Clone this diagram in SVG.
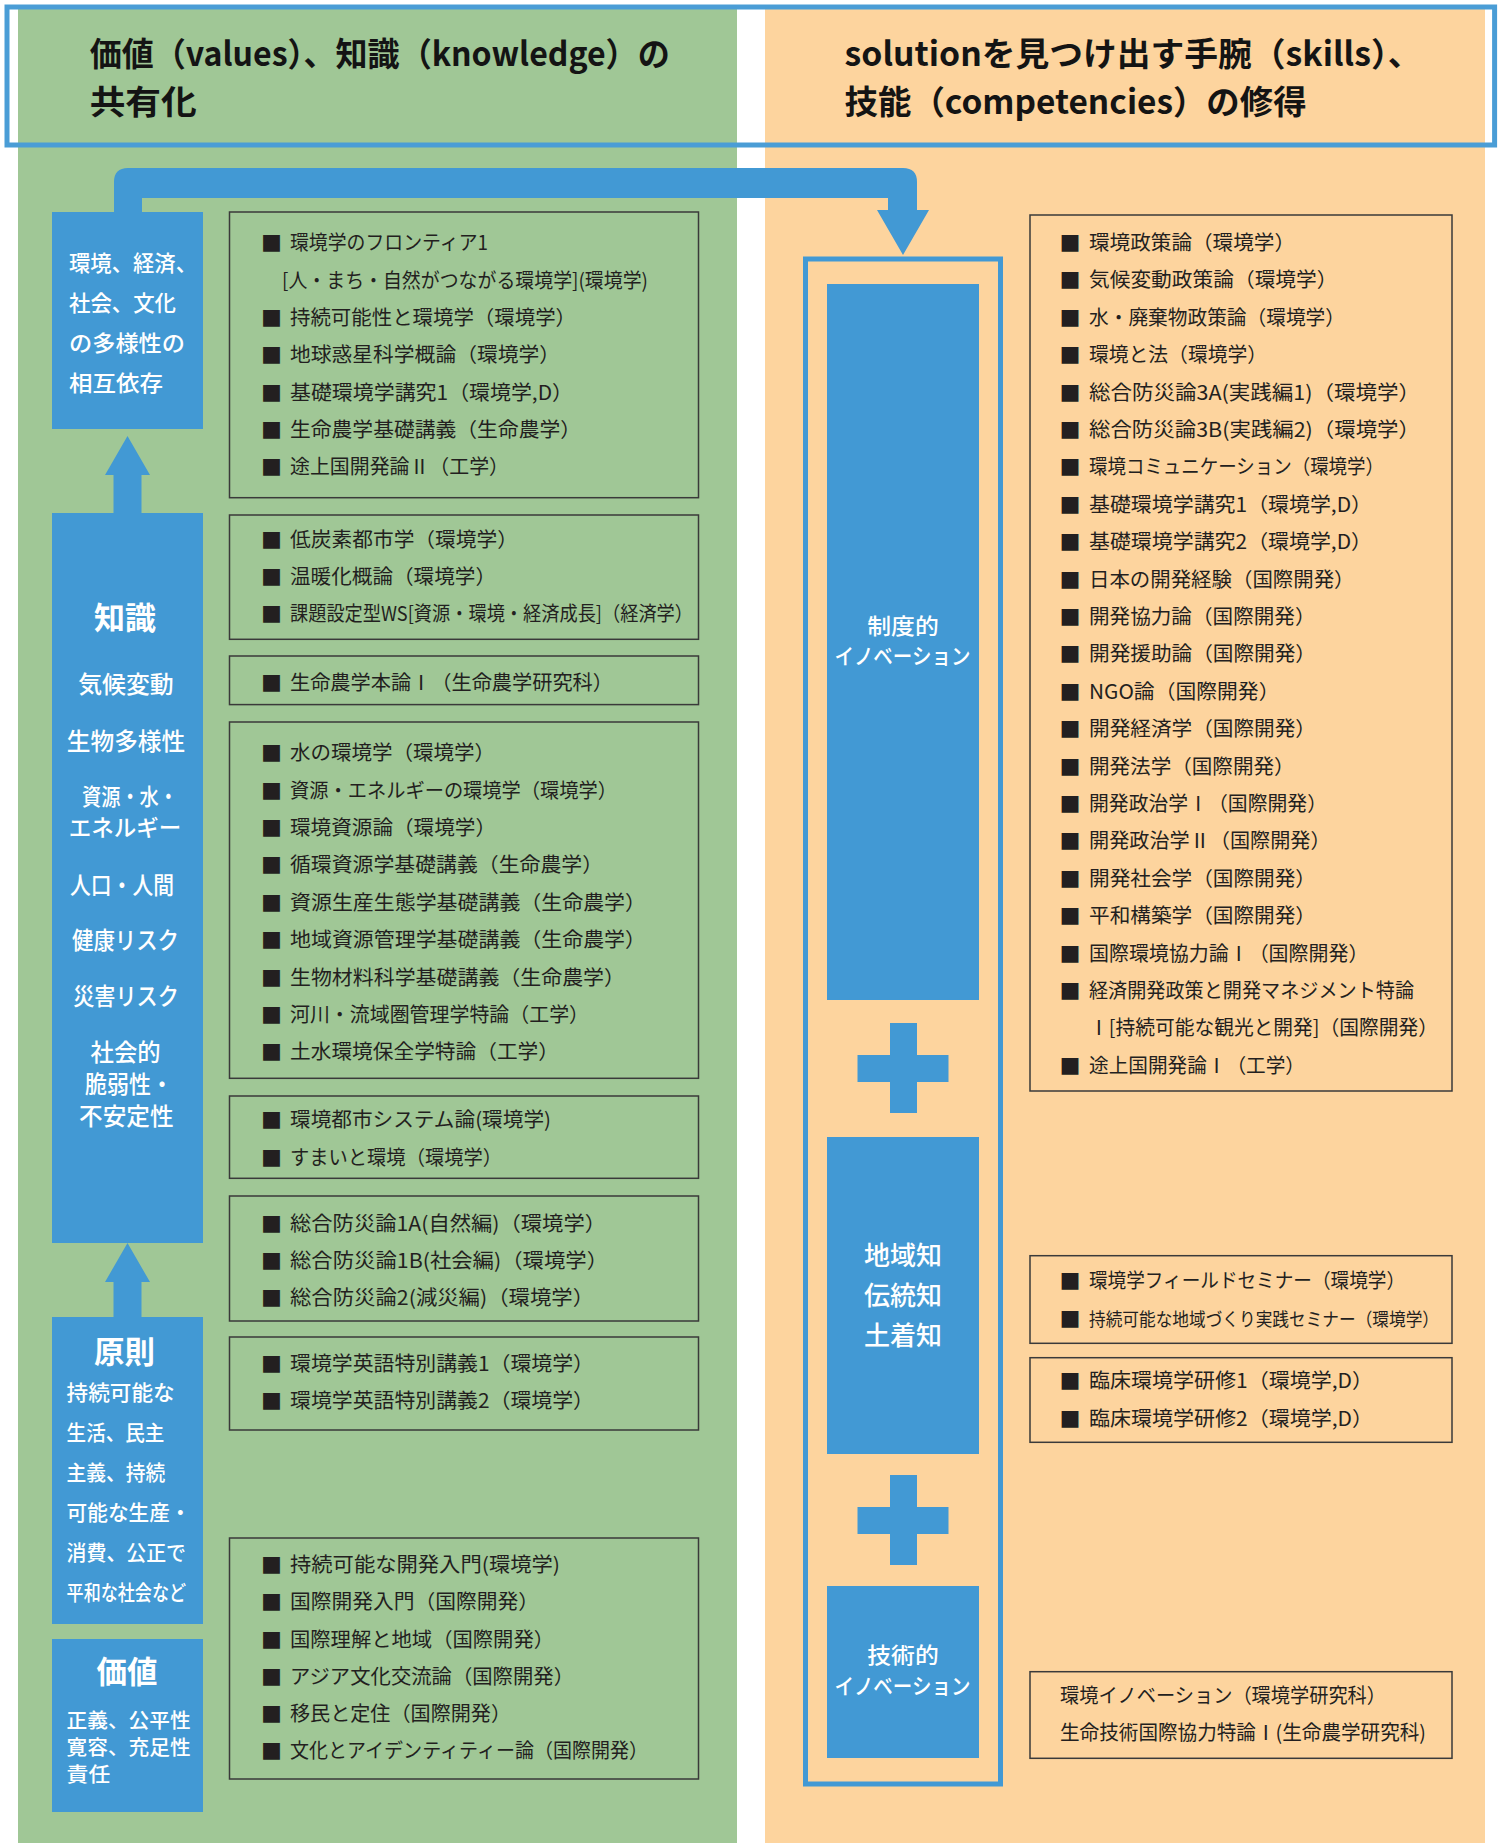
<svg xmlns="http://www.w3.org/2000/svg" width="1503" height="1843" viewBox="0 0 1503 1843">
<style>
text { font-family: "Noto Sans CJK JP", "Noto Sans", sans-serif; }
.hdr { font-size: 33px; font-weight: bold; fill: #141414; }
.crs { font-size: 20px; fill: #231f20; }
.bul { font-size: 21px; fill: #231f20; }
.box { fill: none; stroke: #3a3a3a; stroke-width: 1.5; }
.blue { fill: #4299d4; }
.wt { fill: #ffffff; font-size: 22px; font-weight: 500; }
.wm { fill: #ffffff; font-size: 24px; font-weight: 500; text-anchor: middle; }
.wh { fill: #ffffff; font-size: 31px; font-weight: bold; text-anchor: middle; }
.wr { fill: #ffffff; font-size: 22px; font-weight: 500; text-anchor: middle; }
.wk { fill: #ffffff; font-size: 26px; font-weight: 500; text-anchor: middle; }
</style>
<rect x="0" y="0" width="1503" height="1843" fill="#ffffff"/>
<g id="panels">
  <rect x="18" y="5" width="719" height="1838" fill="#a0c796"/>
  <rect x="765" y="5" width="720" height="1838" fill="#fdd49e"/>
</g>
<g id="header">
  <rect x="7" y="7" width="1487.6" height="138" fill="none" stroke="#4a9dd6" stroke-width="5"/>
  <text class="hdr" x="89.7" y="66" textLength="580" lengthAdjust="spacingAndGlyphs">価値（values）、知識（knowledge）の</text>
  <text class="hdr" x="89.7" y="114" textLength="107" lengthAdjust="spacingAndGlyphs">共有化</text>
  <text class="hdr" x="844.6" y="66" textLength="577" lengthAdjust="spacingAndGlyphs">solutionを見つけ出す手腕（skills）、</text>
  <text class="hdr" x="844.6" y="114" textLength="462" lengthAdjust="spacingAndGlyphs">技能（competencies）の修得</text>
</g>

<g id="connectors">
  <path class="blue" d="M114,212 V182 Q114,168 128,168 H903 Q917,168 917,182 V210 H929 L903,255 L877,210 H888 V198 H142 V212 Z"/>
  <path class="blue" d="M127.5,436 L150,475 H141.5 V513 H113.5 V475 H105 Z"/>
  <path class="blue" d="M127.5,1243 L150,1282 H141.5 V1317 H113.5 V1282 H105 Z"/>
</g>

<g id="node-interdependence">
  <rect class="blue" x="52" y="212" width="151" height="217"/>
  <text class="wt" x="69" y="271" textLength="128" lengthAdjust="spacingAndGlyphs">環境、経済、</text>
  <text class="wt" x="69" y="311" textLength="107" lengthAdjust="spacingAndGlyphs">社会、文化</text>
  <text class="wt" x="69" y="351" textLength="116" lengthAdjust="spacingAndGlyphs">の多様性の</text>
  <text class="wt" x="69" y="391" textLength="94" lengthAdjust="spacingAndGlyphs">相互依存</text>
</g>

<g id="node-knowledge">
  <rect class="blue" x="52" y="513" width="151" height="730"/>
  <text class="wh" x="125" y="629" textLength="62" lengthAdjust="spacingAndGlyphs">知識</text>
  <text class="wm" x="126" y="693" textLength="95.5" lengthAdjust="spacingAndGlyphs">気候変動</text>
  <text class="wm" x="126" y="750" textLength="118.5" lengthAdjust="spacingAndGlyphs">生物多様性</text>
  <text class="wm" style="font-size:23px"><tspan x="130" y="805" textLength="96" lengthAdjust="spacingAndGlyphs">資源・水・</tspan><tspan x="125" y="836" textLength="112.5" lengthAdjust="spacingAndGlyphs">エネルギー</tspan></text>
  <text class="wm" x="122" y="894" textLength="104" lengthAdjust="spacingAndGlyphs">人口・人間</text>
  <text class="wm" x="125.5" y="949" textLength="107" lengthAdjust="spacingAndGlyphs">健康リスク</text>
  <text class="wm" x="126" y="1005" textLength="105.6" lengthAdjust="spacingAndGlyphs">災害リスク</text>
  <text class="wm"><tspan x="125.6" y="1061" textLength="70" lengthAdjust="spacingAndGlyphs">社会的</tspan><tspan x="129" y="1093" textLength="88" lengthAdjust="spacingAndGlyphs">脆弱性・</tspan><tspan x="126.3" y="1125" textLength="94.6" lengthAdjust="spacingAndGlyphs">不安定性</tspan></text>
</g>

<g id="node-principles">
  <rect class="blue" x="52" y="1317" width="151" height="307"/>
  <text class="wh" x="124.5" y="1363" textLength="61" lengthAdjust="spacingAndGlyphs">原則</text>
  <text class="wt" x="66.6" y="1400" style="font-size:21px" textLength="108" lengthAdjust="spacingAndGlyphs">持続可能な</text>
  <text class="wt" x="66.6" y="1440" style="font-size:21px" textLength="97.8" lengthAdjust="spacingAndGlyphs">生活、民主</text>
  <text class="wt" x="66.6" y="1480" style="font-size:21px" textLength="98.7" lengthAdjust="spacingAndGlyphs">主義、持続</text>
  <text class="wt" x="66.6" y="1520" style="font-size:21px" textLength="124" lengthAdjust="spacingAndGlyphs">可能な生産・</text>
  <text class="wt" x="66.6" y="1560" style="font-size:21px" textLength="119.4" lengthAdjust="spacingAndGlyphs">消費、公正で</text>
  <text class="wt" x="66.6" y="1600" style="font-size:21px" textLength="119.4" lengthAdjust="spacingAndGlyphs">平和な社会など</text>
</g>

<g id="node-values">
  <rect class="blue" x="52" y="1639" width="151" height="173"/>
  <text class="wh" x="127" y="1683" textLength="61" lengthAdjust="spacingAndGlyphs">価値</text>
  <text class="wt" style="font-size:20px"><tspan x="66.6" y="1728" textLength="124" lengthAdjust="spacingAndGlyphs">正義、公平性</tspan><tspan x="66.6" y="1755" textLength="124" lengthAdjust="spacingAndGlyphs">寛容、充足性</tspan><tspan x="66.6" y="1782" textLength="43.6" lengthAdjust="spacingAndGlyphs">責任</tspan></text>
</g>

<g id="courses-A">
  <rect class="box" x="229.5" y="212" width="469" height="285.7"/>
  <text class="bul" x="261" y="251">■</text>
  <text class="crs" x="290" y="250" textLength="198" lengthAdjust="spacingAndGlyphs">環境学のフロンティア1</text>
  <text class="crs" x="282" y="287.5" textLength="366" lengthAdjust="spacingAndGlyphs">[人・まち・自然がつながる環境学](環境学)</text>
  <text class="bul" x="261" y="326">■</text>
  <text class="crs" x="290" y="325" textLength="286" lengthAdjust="spacingAndGlyphs">持続可能性と環境学（環境学）</text>
  <text class="bul" x="261" y="363">■</text>
  <text class="crs" x="290" y="362" textLength="270" lengthAdjust="spacingAndGlyphs">地球惑星科学概論（環境学）</text>
  <text class="bul" x="261" y="400.5">■</text>
  <text class="crs" x="290" y="399.5" textLength="283" lengthAdjust="spacingAndGlyphs">基礎環境学講究1（環境学,D）</text>
  <text class="bul" x="261" y="438">■</text>
  <text class="crs" x="290" y="437" textLength="291" lengthAdjust="spacingAndGlyphs">生命農学基礎講義（生命農学）</text>
  <text class="bul" x="261" y="475">■</text>
  <text class="crs" x="290" y="474" textLength="219" lengthAdjust="spacingAndGlyphs">途上国開発論Ⅱ（工学）</text>
</g>

<g id="courses-B">
  <rect class="box" x="229.5" y="515" width="469" height="124.3"/>
  <text class="bul" x="261" y="548">■</text>
  <text class="crs" x="290" y="547" textLength="228" lengthAdjust="spacingAndGlyphs">低炭素都市学（環境学）</text>
  <text class="bul" x="261" y="585">■</text>
  <text class="crs" x="290" y="584" textLength="206" lengthAdjust="spacingAndGlyphs">温暖化概論（環境学）</text>
  <text class="bul" x="261" y="622">■</text>
  <text class="crs" x="290" y="621" textLength="403" lengthAdjust="spacingAndGlyphs">課題設定型WS[資源・環境・経済成長]（経済学）</text>
</g>

<g id="courses-C">
  <rect class="box" x="229.5" y="656" width="469" height="48.6"/>
  <text class="bul" x="261" y="691">■</text>
  <text class="crs" x="290" y="690" textLength="323" lengthAdjust="spacingAndGlyphs">生命農学本論Ⅰ（生命農学研究科）</text>
</g>

<g id="courses-D">
  <rect class="box" x="229.5" y="722" width="469" height="356.3"/>
  <text class="bul" x="261" y="761">■</text>
  <text class="crs" x="290" y="760" textLength="205" lengthAdjust="spacingAndGlyphs">水の環境学（環境学）</text>
  <text class="bul" x="261" y="798.5">■</text>
  <text class="crs" x="290" y="797.5" textLength="327" lengthAdjust="spacingAndGlyphs">資源・エネルギーの環境学（環境学）</text>
  <text class="bul" x="261" y="836">■</text>
  <text class="crs" x="290" y="835" textLength="206" lengthAdjust="spacingAndGlyphs">環境資源論（環境学）</text>
  <text class="bul" x="261" y="873">■</text>
  <text class="crs" x="290" y="872" textLength="313" lengthAdjust="spacingAndGlyphs">循環資源学基礎講義（生命農学）</text>
  <text class="bul" x="261" y="911">■</text>
  <text class="crs" x="290" y="910" textLength="356" lengthAdjust="spacingAndGlyphs">資源生産生態学基礎講義（生命農学）</text>
  <text class="bul" x="261" y="948">■</text>
  <text class="crs" x="290" y="947" textLength="356" lengthAdjust="spacingAndGlyphs">地域資源管理学基礎講義（生命農学）</text>
  <text class="bul" x="261" y="986">■</text>
  <text class="crs" x="290" y="985" textLength="335" lengthAdjust="spacingAndGlyphs">生物材料科学基礎講義（生命農学）</text>
  <text class="bul" x="261" y="1023">■</text>
  <text class="crs" x="290" y="1022" textLength="299" lengthAdjust="spacingAndGlyphs">河川・流域圏管理学特論（工学）</text>
  <text class="bul" x="261" y="1060">■</text>
  <text class="crs" x="290" y="1059" textLength="269" lengthAdjust="spacingAndGlyphs">土水環境保全学特論（工学）</text>
</g>

<g id="courses-E">
  <rect class="box" x="229.5" y="1096" width="469" height="82.3"/>
  <text class="bul" x="261" y="1128">■</text>
  <text class="crs" x="290" y="1127" textLength="261" lengthAdjust="spacingAndGlyphs">環境都市システム論(環境学)</text>
  <text class="bul" x="261" y="1166">■</text>
  <text class="crs" x="290" y="1165" textLength="212" lengthAdjust="spacingAndGlyphs">すまいと環境（環境学）</text>
</g>

<g id="courses-F">
  <rect class="box" x="229.5" y="1196" width="469" height="125"/>
  <text class="bul" x="261" y="1232">■</text>
  <text class="crs" x="290" y="1231" textLength="316" lengthAdjust="spacingAndGlyphs">総合防災論1A(自然編)（環境学）</text>
  <text class="bul" x="261" y="1269">■</text>
  <text class="crs" x="290" y="1268" textLength="318" lengthAdjust="spacingAndGlyphs">総合防災論1B(社会編)（環境学）</text>
  <text class="bul" x="261" y="1306">■</text>
  <text class="crs" x="290" y="1305" textLength="304" lengthAdjust="spacingAndGlyphs">総合防災論2(減災編)（環境学）</text>
</g>

<g id="courses-G">
  <rect class="box" x="229.5" y="1337" width="469" height="93"/>
  <text class="bul" x="261" y="1372">■</text>
  <text class="crs" x="290" y="1371" textLength="304" lengthAdjust="spacingAndGlyphs">環境学英語特別講義1（環境学）</text>
  <text class="bul" x="261" y="1409">■</text>
  <text class="crs" x="290" y="1408" textLength="304" lengthAdjust="spacingAndGlyphs">環境学英語特別講義2（環境学）</text>
</g>

<g id="courses-H">
  <rect class="box" x="229.5" y="1538" width="469" height="241"/>
  <text class="bul" x="261" y="1573">■</text>
  <text class="crs" x="290" y="1572" textLength="270" lengthAdjust="spacingAndGlyphs">持続可能な開発入門(環境学)</text>
  <text class="bul" x="261" y="1610">■</text>
  <text class="crs" x="290" y="1609" textLength="249" lengthAdjust="spacingAndGlyphs">国際開発入門（国際開発）</text>
  <text class="bul" x="261" y="1648">■</text>
  <text class="crs" x="290" y="1647" textLength="264" lengthAdjust="spacingAndGlyphs">国際理解と地域（国際開発）</text>
  <text class="bul" x="261" y="1685">■</text>
  <text class="crs" x="290" y="1684" textLength="284" lengthAdjust="spacingAndGlyphs">アジア文化交流論（国際開発）</text>
  <text class="bul" x="261" y="1722">■</text>
  <text class="crs" x="290" y="1721" textLength="221" lengthAdjust="spacingAndGlyphs">移民と定住（国際開発）</text>
  <text class="bul" x="261" y="1759">■</text>
  <text class="crs" x="290" y="1758" textLength="358" lengthAdjust="spacingAndGlyphs">文化とアイデンティティー論（国際開発）</text>
</g>

<g id="innovation-frame">
  <rect x="805.5" y="259" width="195" height="1525" fill="none" stroke="#4299d4" stroke-width="5"/>
</g>

<g id="node-institutional">
  <rect class="blue" x="827" y="284" width="152" height="716"/>
  <text class="wr"><tspan x="903" y="634" textLength="71.5" lengthAdjust="spacingAndGlyphs">制度的</tspan><tspan x="902.4" y="664" textLength="136" lengthAdjust="spacingAndGlyphs">イノベーション</tspan></text>
</g>

<g id="plus-signs">
  <rect class="blue" x="890" y="1023" width="27" height="90"/>
  <rect class="blue" x="857.5" y="1055" width="91" height="27"/>
  <rect class="blue" x="890" y="1475" width="27" height="90"/>
  <rect class="blue" x="857.5" y="1507" width="91" height="27"/>
</g>

<g id="node-local">
  <rect class="blue" x="827" y="1137" width="152" height="317"/>
  <text class="wk" x="903" y="1265" textLength="78" lengthAdjust="spacingAndGlyphs">地域知</text>
  <text class="wk" x="903" y="1305" textLength="78" lengthAdjust="spacingAndGlyphs">伝統知</text>
  <text class="wk" x="903" y="1345" textLength="78" lengthAdjust="spacingAndGlyphs">土着知</text>
</g>

<g id="node-technical">
  <rect class="blue" x="827" y="1586" width="152" height="172"/>
  <text class="wr"><tspan x="903" y="1663" textLength="71.5" lengthAdjust="spacingAndGlyphs">技術的</tspan><tspan x="902.4" y="1694" textLength="136" lengthAdjust="spacingAndGlyphs">イノベーション</tspan></text>
</g>

<g id="courses-R1">
  <rect class="box" x="1030" y="215" width="422" height="876"/>
  <text class="bul" x="1059.5" y="251">■</text>
  <text class="crs" x="1089" y="250" textLength="206" lengthAdjust="spacingAndGlyphs">環境政策論（環境学）</text>
  <text class="bul" x="1059.5" y="288.4">■</text>
  <text class="crs" x="1089" y="287.4" textLength="248.5" lengthAdjust="spacingAndGlyphs">気候変動政策論（環境学）</text>
  <text class="bul" x="1059.5" y="325.8">■</text>
  <text class="crs" x="1089" y="324.8" textLength="256" lengthAdjust="spacingAndGlyphs">水・廃棄物政策論（環境学）</text>
  <text class="bul" x="1059.5" y="363.2">■</text>
  <text class="crs" x="1089" y="362.2" textLength="178" lengthAdjust="spacingAndGlyphs">環境と法（環境学）</text>
  <text class="bul" x="1059.5" y="400.6">■</text>
  <text class="crs" x="1089" y="399.6" textLength="331" lengthAdjust="spacingAndGlyphs">総合防災論3A(実践編1)（環境学）</text>
  <text class="bul" x="1059.5" y="438">■</text>
  <text class="crs" x="1089" y="437" textLength="331" lengthAdjust="spacingAndGlyphs">総合防災論3B(実践編2)（環境学）</text>
  <text class="bul" x="1059.5" y="475.4">■</text>
  <text class="crs" x="1089" y="474.4" textLength="295" lengthAdjust="spacingAndGlyphs">環境コミュニケーション（環境学）</text>
  <text class="bul" x="1059.5" y="512.8">■</text>
  <text class="crs" x="1089" y="511.8" textLength="283" lengthAdjust="spacingAndGlyphs">基礎環境学講究1（環境学,D）</text>
  <text class="bul" x="1059.5" y="550.2">■</text>
  <text class="crs" x="1089" y="549.2" textLength="283" lengthAdjust="spacingAndGlyphs">基礎環境学講究2（環境学,D）</text>
  <text class="bul" x="1059.5" y="587.6">■</text>
  <text class="crs" x="1089" y="586.6" textLength="265.5" lengthAdjust="spacingAndGlyphs">日本の開発経験（国際開発）</text>
  <text class="bul" x="1059.5" y="625">■</text>
  <text class="crs" x="1089" y="624" textLength="226.5" lengthAdjust="spacingAndGlyphs">開発協力論（国際開発）</text>
  <text class="bul" x="1059.5" y="662.4">■</text>
  <text class="crs" x="1089" y="661.4" textLength="227" lengthAdjust="spacingAndGlyphs">開発援助論（国際開発）</text>
  <text class="bul" x="1059.5" y="699.8">■</text>
  <text class="crs" x="1089" y="698.8" textLength="190.5" lengthAdjust="spacingAndGlyphs">NGO論（国際開発）</text>
  <text class="bul" x="1059.5" y="737.2">■</text>
  <text class="crs" x="1089" y="736.2" textLength="227" lengthAdjust="spacingAndGlyphs">開発経済学（国際開発）</text>
  <text class="bul" x="1059.5" y="774.6">■</text>
  <text class="crs" x="1089" y="773.6" textLength="205.6" lengthAdjust="spacingAndGlyphs">開発法学（国際開発）</text>
  <text class="bul" x="1059.5" y="812">■</text>
  <text class="crs" x="1089" y="811" textLength="238" lengthAdjust="spacingAndGlyphs">開発政治学Ⅰ（国際開発）</text>
  <text class="bul" x="1059.5" y="849.4">■</text>
  <text class="crs" x="1089" y="848.4" textLength="241.6" lengthAdjust="spacingAndGlyphs">開発政治学Ⅱ（国際開発）</text>
  <text class="bul" x="1059.5" y="886.8">■</text>
  <text class="crs" x="1089" y="885.8" textLength="227" lengthAdjust="spacingAndGlyphs">開発社会学（国際開発）</text>
  <text class="bul" x="1059.5" y="924.2">■</text>
  <text class="crs" x="1089" y="923.2" textLength="227" lengthAdjust="spacingAndGlyphs">平和構築学（国際開発）</text>
  <text class="bul" x="1059.5" y="961.6">■</text>
  <text class="crs" x="1089" y="960.6" textLength="279.4" lengthAdjust="spacingAndGlyphs">国際環境協力論Ⅰ（国際開発）</text>
  <text class="bul" x="1059.5" y="999">■</text>
  <text class="crs" x="1089" y="998" textLength="325" lengthAdjust="spacingAndGlyphs">経済開発政策と開発マネジメント特論</text>
  <text class="crs" x="1089" y="1035.4" textLength="349" lengthAdjust="spacingAndGlyphs">Ⅰ[持続可能な観光と開発]（国際開発）</text>
  <text class="bul" x="1059.5" y="1073.8">■</text>
  <text class="crs" x="1089" y="1072.8" textLength="216" lengthAdjust="spacingAndGlyphs">途上国開発論Ⅰ（工学）</text>
</g>

<g id="courses-R2">
  <rect class="box" x="1030" y="1255.7" width="422" height="87.6"/>
  <text class="bul" x="1059.5" y="1289">■</text>
  <text class="crs" x="1089" y="1288" textLength="316" lengthAdjust="spacingAndGlyphs">環境学フィールドセミナー（環境学）</text>
  <text class="bul" x="1059.5" y="1327">■</text>
  <text class="crs" x="1089" y="1326" style="font-size:18.5px" textLength="350" lengthAdjust="spacingAndGlyphs">持続可能な地域づくり実践セミナー（環境学）</text>
</g>

<g id="courses-R3">
  <rect class="box" x="1030" y="1357.7" width="422" height="84.6"/>
  <text class="bul" x="1059.5" y="1389">■</text>
  <text class="crs" x="1089" y="1388" textLength="284" lengthAdjust="spacingAndGlyphs">臨床環境学研修1（環境学,D）</text>
  <text class="bul" x="1059.5" y="1427">■</text>
  <text class="crs" x="1089" y="1426" textLength="284" lengthAdjust="spacingAndGlyphs">臨床環境学研修2（環境学,D）</text>
</g>

<g id="courses-R4">
  <rect class="box" x="1030" y="1671.7" width="422" height="86.6"/>
  <text class="crs" x="1060" y="1703" textLength="326" lengthAdjust="spacingAndGlyphs">環境イノベーション（環境学研究科）</text>
  <text class="crs" x="1060" y="1740" textLength="366" lengthAdjust="spacingAndGlyphs">生命技術国際協力特論Ⅰ(生命農学研究科)</text>
</g>
</svg>
